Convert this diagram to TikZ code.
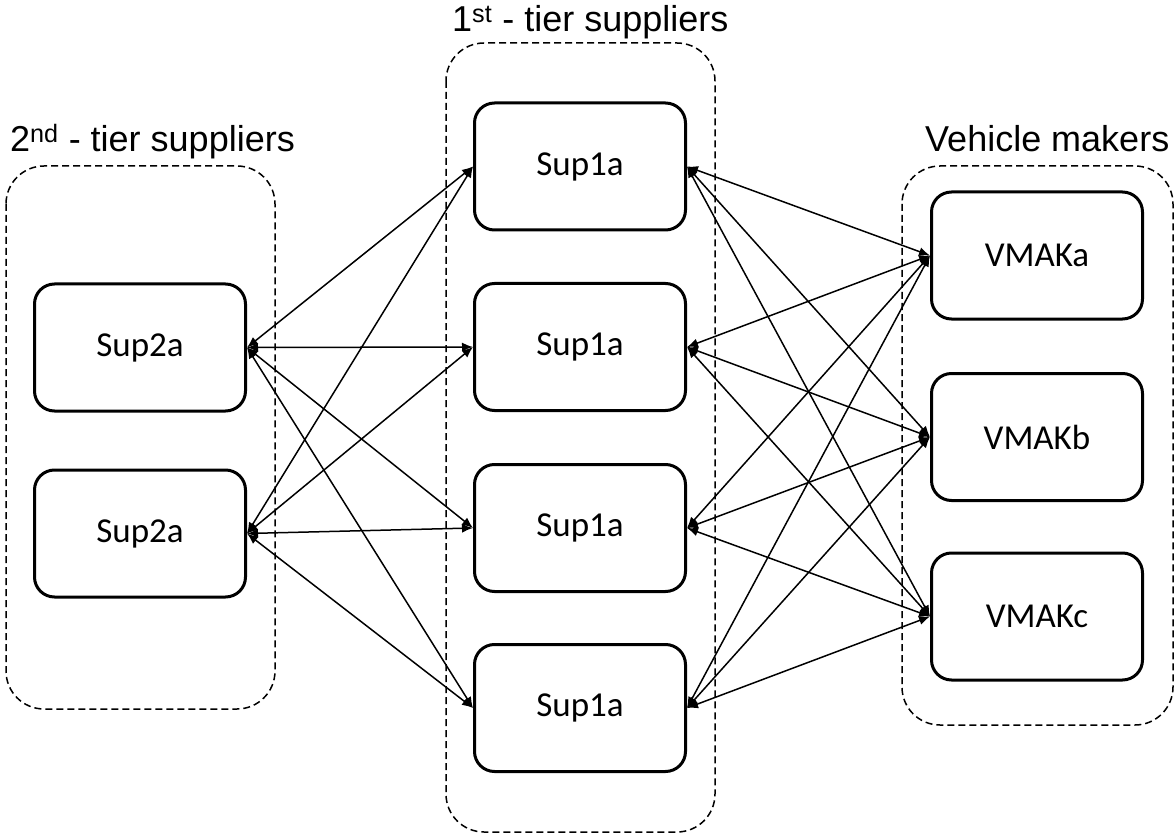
\documentclass[tikz,border=0pt]{standalone}
\usepackage{fontspec}
\setmainfont{Liberation Sans}
\newfontfamily\firmfont{Carlito}
\usetikzlibrary{positioning, arrows.meta}

\tikzset{
  firm/.style={draw, line width=3pt, rounded corners=20pt,
    minimum width=211pt, minimum height=127pt, inner sep=0pt,
    font=\firmfont\fontsize{35}{40}\selectfont},
  tierbox/.style={draw, dash pattern=on 7pt off 4pt, line width=1.5pt,
    rounded corners=38pt},
  tiertitle/.style={font=\fontsize{36}{40}\selectfont, inner sep=0pt,
    anchor=base west},
  link/.style={{Latex[length=11pt,width=9pt]}-{Latex[length=11pt,width=9pt]},
    line width=1.5pt}
}

\begin{document}
\begin{tikzpicture}[x=1pt, y=-1pt]

\useasboundingbox (0,0) rectangle (1176,837);

% --- Tier frames ---
\draw[tierbox] (6,166) rectangle (275,709);
\draw[tierbox] (446,43) rectangle (715,832);
\draw[tierbox] (902,166) rectangle (1173,725);

% --- Tier titles ---
\node[tiertitle] (title2) at (10,152) {2\textsuperscript{nd} - tier suppliers};
\node[tiertitle] (title1) at (452,32) {1\textsuperscript{st} - tier suppliers};
\node[tiertitle] (titlevm) at (925,152) {Vehicle makers};

% --- 2nd-tier suppliers ---
\foreach \i/\y in {1/347.5, 2/533.5}
  \node[firm] (t2-\i) at (140,\y) {Sup2a};

% --- 1st-tier suppliers ---
\foreach \j/\y in {1/166.5, 2/347, 3/528, 4/708}
  \node[firm] (t1-\j) at (580,\y) {Sup1a};

% --- Vehicle makers ---
\foreach \k/\y in {a/255.5, b/437, c/616.5}
  \node[firm] (vm-\k) at (1037,\y) {VMAK\k};

% --- Links: 2nd tier <-> 1st tier ---
\foreach \i in {1,2}
  \foreach \j in {1,...,4}
    \draw[link] (t2-\i.east) -- (t1-\j.west);

% --- Links: 1st tier <-> vehicle makers ---
\foreach \j in {1,...,4}
  \foreach \k in {a,b,c}
    \draw[link] (t1-\j.east) -- (vm-\k.west);

\end{tikzpicture}
\end{document}
